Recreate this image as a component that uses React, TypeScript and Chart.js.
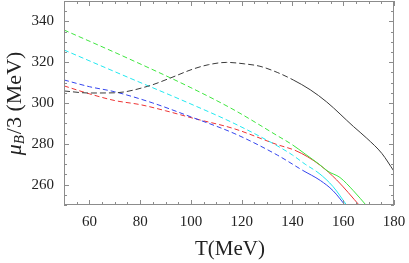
import React, { useEffect, useRef } from "react";
import { Chart, registerables } from "chart.js";

Chart.register(...registerables);

const xTickLabels = [60, 80, 100, 120, 140, 160, 180];
const yTickLabels = [260, 280, 300, 320, 340];

// [T, mu_B/3]
const blackT = [50, 60, 70, 83, 92, 100.5, 107, 114, 121, 127.2, 134, 140.3, 147, 153.5, 164, 169.3, 175.2, 180];
const blackMu = [305.9, 304.9, 305, 308.2, 312.3, 316.5, 318.8, 319.9, 319.2, 318, 315, 311.3, 306.5, 300.5, 288.5, 282.7, 275.3, 266.5];
const greenT = [50, 75, 100, 117, 134, 140, 145, 150.5, 154, 158.7, 164, 169.3];
const greenMu = [335.8, 322, 307.5, 296.6, 284, 279.5, 275, 270, 266.5, 263.5, 257, 249.5];
const cyanT = [50, 75, 100, 117, 134, 140, 145, 150.5, 156, 161.6];
const cyanMu = [326, 312.7, 299.5, 290, 279, 274.5, 270, 265.5, 259, 249.5];
const blueT = [50, 60, 70, 85, 100, 117, 134, 144, 151, 156, 161];
const blueMu = [311.3, 308, 305.5, 300, 293.2, 285.1, 274.5, 267, 262, 257, 249.5];
const redT = [50, 60, 70, 80, 90, 101, 117, 134, 141, 146, 151, 157.4, 166.6];
const redMu = [308.4, 304.5, 301.2, 299.2, 296.2, 292.5, 287.4, 279.6, 276.8, 273.6, 269.4, 262.3, 249.5];

const solidFrom = { black: 140, green: 140, cyan: 149, blue: 144, red: 140 };

const pts = (xs: number[], ys: number[]) => xs.map((x, i) => ({ x, y: ys[i] }));

const SERIF = "'Liberation Serif', 'DejaVu Serif', serif";

export default function App() {
  const ref = useRef<HTMLCanvasElement | null>(null);

  useEffect(() => {
    document.body.style.margin = "0";
    const canvas = ref.current!;
    const mk = (name: string, xs: number[], ys: number[], color: string, dash: number[], from: number) => ({
      label: name,
      data: pts(xs, ys),
      borderColor: color,
      borderWidth: 1,
      pointRadius: 0,
      cubicInterpolationMode: "monotone",
      fill: false,
      segment: {
        borderDash: (ctx: any) => (ctx.p0.parsed.x < from ? dash : []),
      },
    });

    const framePlugin = {
      id: "frame",
      afterDraw(chart: any) {
        const { ctx, chartArea } = chart;
        const { left, right, top, bottom } = chartArea;
        const xs = chart.scales.x;
        const ys = chart.scales.y;
        ctx.save();
        ctx.strokeStyle = "#8c8c8c";
        ctx.lineWidth = 1;
        ctx.strokeRect(left + 0.5, top + 0.5, right - left - 1, bottom - top - 1);
        ctx.beginPath();
        for (let v = 50; v <= 180; v += 5) {
          const px = Math.round(xs.getPixelForValue(v)) + 0.5;
          const len = v % 20 === 0 ? 5 : 3;
          ctx.moveTo(px, bottom);
          ctx.lineTo(px, bottom - len);
          ctx.moveTo(px, top);
          ctx.lineTo(px, top + len);
        }
        for (let v = 250; v <= 350; v += 5) {
          const py = Math.round(ys.getPixelForValue(v)) + 0.5;
          const len = v % 20 === 0 ? 5 : 3;
          ctx.moveTo(left, py);
          ctx.lineTo(left + len, py);
          ctx.moveTo(right, py);
          ctx.lineTo(right - len, py);
        }
        ctx.stroke();

        // axis titles
        ctx.fillStyle = "#222";
        ctx.textBaseline = "middle";
        ctx.textAlign = "center";
        ctx.font = `21px ${SERIF}`;
        ctx.fillText("T(MeV)", (left + right) / 2 + 1, 249);

        // y title with subscript
        ctx.translate(15, 104);
        ctx.rotate(-Math.PI / 2);
        const f1 = `italic 22px ${SERIF}`;
        const f2 = `italic 15px ${SERIF}`;
        const f3 = `22px ${SERIF}`;
        ctx.font = f1;
        const w1 = ctx.measureText("μ").width;
        ctx.font = f2;
        const w2 = ctx.measureText("B").width;
        ctx.font = f3;
        const w3 = ctx.measureText("/3 (MeV)").width;
        let x0 = -(w1 + w2 + w3) / 2;
        ctx.textAlign = "left";
        ctx.font = f1;
        ctx.fillText("μ", x0, 0);
        x0 += w1;
        ctx.font = f2;
        ctx.fillText("B", x0, 5);
        x0 += w2 + 1;
        ctx.font = f3;
        ctx.fillText("/3 (MeV)", x0, 0);
        ctx.restore();
      },
    };

    const chart = new Chart(canvas, {
      type: "line",
      data: {
        datasets: [
          mk("black", blackT, blackMu, "#3a3a3a", [6, 3], solidFrom.black),
          mk("green", greenT, greenMu, "#3fe63f", [5, 3], solidFrom.green),
          mk("cyan", cyanT, cyanMu, "#22e8f0", [5, 3], solidFrom.cyan),
          mk("blue", blueT, blueMu, "#3344ee", [5, 3], solidFrom.blue),
          mk("red", redT, redMu, "#ee3333", [5, 3], solidFrom.red),
        ] as any,
      },
      options: {
        animation: false,
        responsive: false,
        maintainAspectRatio: false,
        layout: { padding: { left: 0, right: 15, top: 1, bottom: 0 } },
        plugins: { legend: { display: false }, tooltip: { enabled: false } },
        scales: {
          x: {
            type: "linear",
            min: 50,
            max: 180,
            grid: { display: false, drawTicks: false },
            border: { display: false },
            afterFit: (s: any) => {
              s.height = 58;
              s.paddingLeft = 0;
              s.paddingRight = 0;
            },
            afterBuildTicks: (s: any) => {
              s.ticks = xTickLabels.map((v) => ({ value: v }));
            },
            ticks: {
              autoSkip: false,
              maxRotation: 0,
              padding: 8,
              color: "#222",
              font: { family: SERIF, size: 15 },
            },
          },
          y: {
            type: "linear",
            min: 250,
            max: 350,
            grid: { display: false, drawTicks: false },
            border: { display: false },
            afterFit: (s: any) => {
              s.width = 64;
              s.paddingTop = 0;
              s.paddingBottom = 0;
            },
            afterBuildTicks: (s: any) => {
              s.ticks = yTickLabels.map((v) => ({ value: v }));
            },
            ticks: {
              autoSkip: false,
              padding: 10,
              color: "#222",
              font: { family: SERIF, size: 15 },
            },
          },
        },
      },
      plugins: [framePlugin],
    });
    return () => chart.destroy();
  }, []);

  return (
    <div style={{ position: "fixed", left: 0, top: 0, width: 409, height: 263, background: "#fff" }}>
      <canvas ref={ref} width={409} height={263} style={{ width: 409, height: 263, display: "block" }} />
    </div>
  );
}
